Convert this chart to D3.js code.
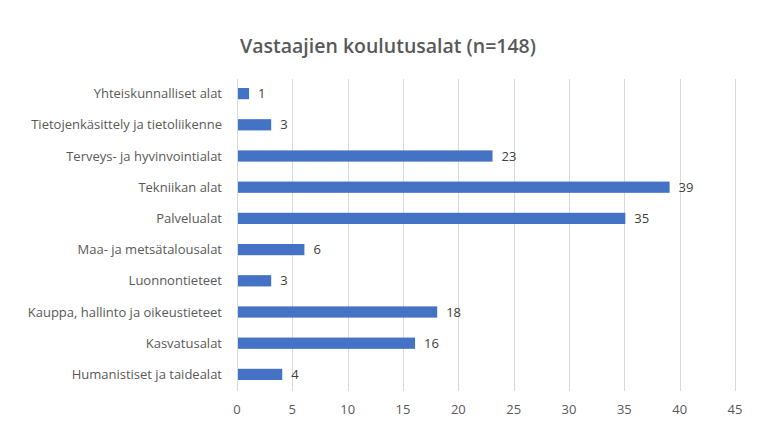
<!DOCTYPE html>
<html><head><meta charset="utf-8">
<script src="https://cdn.jsdelivr.net/npm/d3@7"></script>
<style>body{margin:0;background:#fff}svg{display:block}</style>
</head><body>
<svg id="c" width="768" height="440"></svg>
<script>
const categories = ["Yhteiskunnalliset alat","Tietojenkäsittely ja tietoliikenne","Terveys- ja hyvinvointialat","Tekniikan alat","Palvelualat","Maa- ja metsätalousalat","Luonnontieteet","Kauppa, hallinto ja oikeustieteet","Kasvatusalat","Humanistiset ja taidealat"];
const values = [1,3,23,39,35,6,3,18,16,4];
const xTicks = [0,5,10,15,20,25,30,35,40,45];
const title = "Vastaajien koulutusalat (n=148)";

const svg = d3.select("#c");
const font = "'Open Sans', 'Noto Sans', sans-serif";
const x = d3.scaleLinear().domain([0,45]).range([237,735]);
const y = d3.scaleBand().domain(categories).range([78,390]).paddingInner(0.64).paddingOuter(0.32);

svg.append("text").attr("x",388).attr("y",53).attr("text-anchor","middle")
  .attr("font-family",font).attr("font-size",19.5).attr("font-weight",600)
  .attr("fill","#595959").text(title);

svg.append("g").selectAll("line").data(xTicks).join("line")
  .attr("x1",d=>Math.round(x(d))+0.5).attr("x2",d=>Math.round(x(d))+0.5).attr("y1",79).attr("y2",391)
  .attr("stroke","#d9d9d9").attr("stroke-width",1);

svg.append("g").selectAll("rect").data(values).join("rect")
  .attr("x",x(0)+1).attr("y",(d,i)=>y(categories[i]))
  .attr("width",d=>x(d)-x(0)).attr("height",y.bandwidth())
  .attr("fill","#4472c4");

svg.append("g").selectAll("text").data(values).join("text")
  .attr("x",d=>x(d)+10).attr("y",(d,i)=>y(categories[i])+y.bandwidth()/2)
  .attr("dy","0.36em").attr("font-family",font).attr("font-size",13)
  .attr("fill","#404040").text(d=>d);

svg.append("g").selectAll("text").data(categories).join("text")
  .attr("x",222).attr("y",d=>y(d)+y.bandwidth()/2).attr("dy","0.36em")
  .attr("text-anchor","end").attr("font-family",font).attr("font-size",13)
  .attr("fill","#595959").text(d=>d);

svg.append("g").selectAll("text").data(xTicks).join("text")
  .attr("x",d=>x(d)).attr("y",409).attr("dy","0.36em").attr("text-anchor","middle")
  .attr("font-family",font).attr("font-size",13).attr("fill","#595959").text(d=>d);
</script>
</body></html>
